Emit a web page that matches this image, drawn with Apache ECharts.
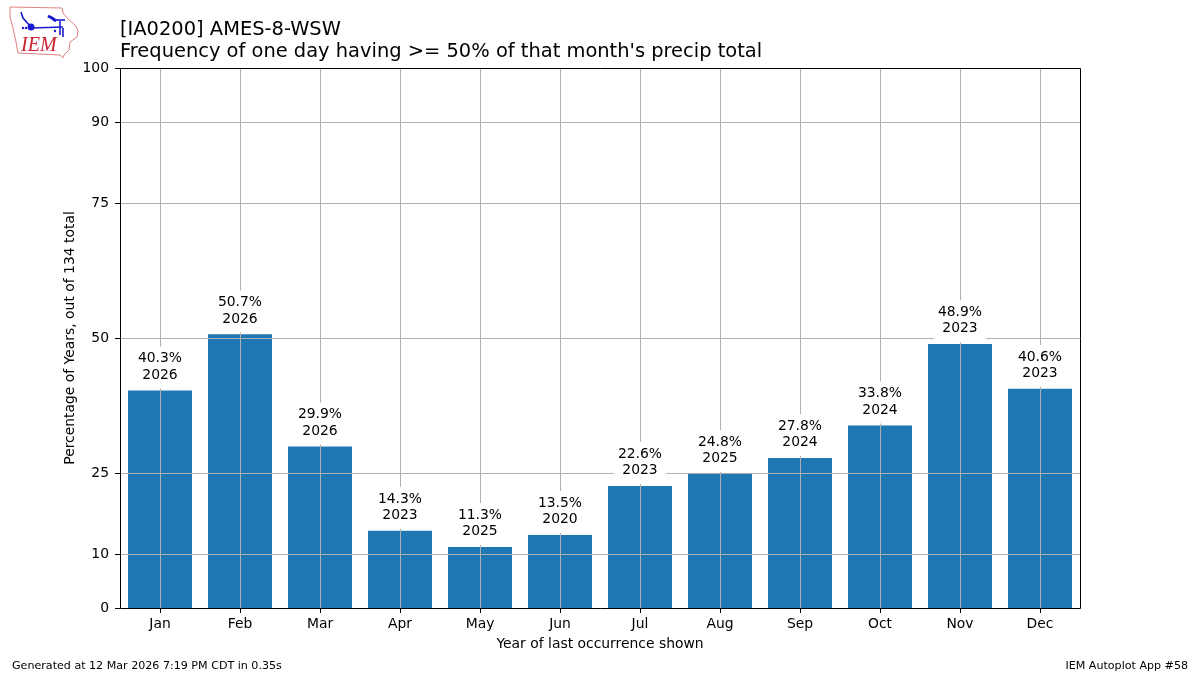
<!DOCTYPE html>
<html>
<head>
<meta charset="utf-8">
<style>html,body{margin:0;padding:0;background:#fff}#c{width:1200px;height:675px}</style>
<script src="https://cdn.jsdelivr.net/npm/echarts@6/dist/echarts.min.js"></script>
</head>
<body>
<div id="c"></div>
<script>
const months = ['Jan','Feb','Mar','Apr','May','Jun','Jul','Aug','Sep','Oct','Nov','Dec'];
const percents = [40.3,50.7,29.9,14.3,11.3,13.5,22.6,24.8,27.8,33.8,48.9,40.6];
const lastYears = [2026,2026,2026,2023,2025,2020,2023,2025,2024,2024,2023,2023];
const yTicks = [0,10,25,50,75,90,100];
const titleLines = ['[IA0200] AMES-8-WSW',"Frequency of one day having >= 50% of that month's precip total"];
const yName = 'Percentage of Years, out of 134 total';
const xName = 'Year of last occurrence shown';
const footLeft = 'Generated at 12 Mar 2026 7:19 PM CDT in 0.35s';
const footRight = 'IEM Autoplot App #58';
const FONT = '"DejaVu Sans", sans-serif';

const chart = echarts.init(document.getElementById('c'), null, {renderer:'canvas'});
const blue = {stroke:'#1a1ad0', lineWidth:1.6, fill:null};
const line = pts => ({type:'polyline', shape:{points:pts}, style:blue, silent:true});
const dot = (cx,cy,r) => ({type:'circle', shape:{cx,cy,r}, style:{fill:'#1a1ad0'}, silent:true});
chart.setOption({
  animation:false,
  backgroundColor:'#fff',
  grid:{left:120, top:68, width:960, height:540, show:false, containLabel:false},
  xAxis:{
    type:'category', data:months, z:2,
    axisLine:{show:false},
    axisTick:{show:true,alignWithLabel:true,length:5,lineStyle:{color:'#000',width:1}},
    splitLine:{show:true,alignWithLabel:true,lineStyle:{color:'#b0b0b0',width:1}},
    axisLabel:{color:'#000',fontFamily:FONT,fontSize:13.9,margin:9},
    name:xName, nameLocation:'middle', nameGap:29, nameMoveOverlap:false,
    nameTextStyle:{color:'#000',fontFamily:FONT,fontSize:13.9}
  },
  yAxis:{
    type:'value', min:0, max:100, z:2,
    axisLine:{show:false},
    axisTick:{show:true,length:5,customValues:yTicks,lineStyle:{color:'#000',width:1}},
    splitLine:{show:true,lineStyle:{color:'#b0b0b0',width:1}},
    axisLabel:{color:'#000',fontFamily:FONT,fontSize:13.9,margin:11,customValues:yTicks,padding:[3,0,0,0]},
    name:yName, nameLocation:'middle', nameGap:43, nameMoveOverlap:false,
    nameTextStyle:{color:'#000',fontFamily:FONT,fontSize:13.9}
  },
  series:[
    {type:'bar', data:percents, barWidth:'80%', barGap:'-100%', z:1, itemStyle:{color:'#1f77b4'}, silent:true},
    {type:'bar', data:percents, barWidth:'80%', barGap:'-100%', z:3, itemStyle:{color:'rgba(0,0,0,0)'}, silent:true,
      label:{show:true, position:'top', distance:2, color:'#000', fontFamily:FONT, fontSize:13.9, lineHeight:16.5,
        backgroundColor:'#fff', padding:[4,4,5,4], align:'center',
        formatter:p => percents[p.dataIndex].toFixed(1)+'%\n'+lastYears[p.dataIndex]}}
  ],
  graphic:[
    {type:'rect', z:100, shape:{x:120.5,y:68.5,width:960,height:540}, style:{stroke:'#000',lineWidth:1,fill:null}, silent:true},
    {type:'text', left:120, top:20, style:{text:titleLines[0], fill:'#000', font:'19.45px '+FONT}, silent:true},
    {type:'text', left:120, top:42, style:{text:titleLines[1], fill:'#000', font:'19.45px '+FONT}, silent:true},
    {type:'text', left:12, top:661, style:{text:footLeft, fill:'#000', font:'11.1px '+FONT}, silent:true},
    {type:'text', right:12, top:661, style:{text:footRight, fill:'#000', font:'11.1px '+FONT}, silent:true},
    {type:'polygon', shape:{points:[[10,7],[62,8],[63,13],[68,19],[76,26],[78,31],[77,37],[70,42],[69,50],[64,55],[63,58],[60,55],[18,53],[16,42],[13,28],[10,17]]},
      style:{stroke:'#e08080',lineWidth:1,fill:'#fff'}, silent:true},
    line([[21,12],[23,18],[31,27]]),
    line([[31,28],[63,27]]),
    {type:'polyline', shape:{points:[[48,16],[52,18],[56,21]]}, style:{stroke:'#1a1ad0',lineWidth:3,fill:null}, silent:true},
    line([[56,20],[65,20]]),
    line([[60,21],[60,35]]),
    line([[63,28],[63,37]]),
    dot(31,27,3.5), dot(23,28,1.2), dot(26,28,1.2), dot(55,31,1.2),
    {type:'text', left:21, top:36, style:{text:'IEM', fill:'#cc2030', font:'italic 20px "Liberation Serif", serif'}, silent:true}
  ]
});
</script>
</body>
</html>
